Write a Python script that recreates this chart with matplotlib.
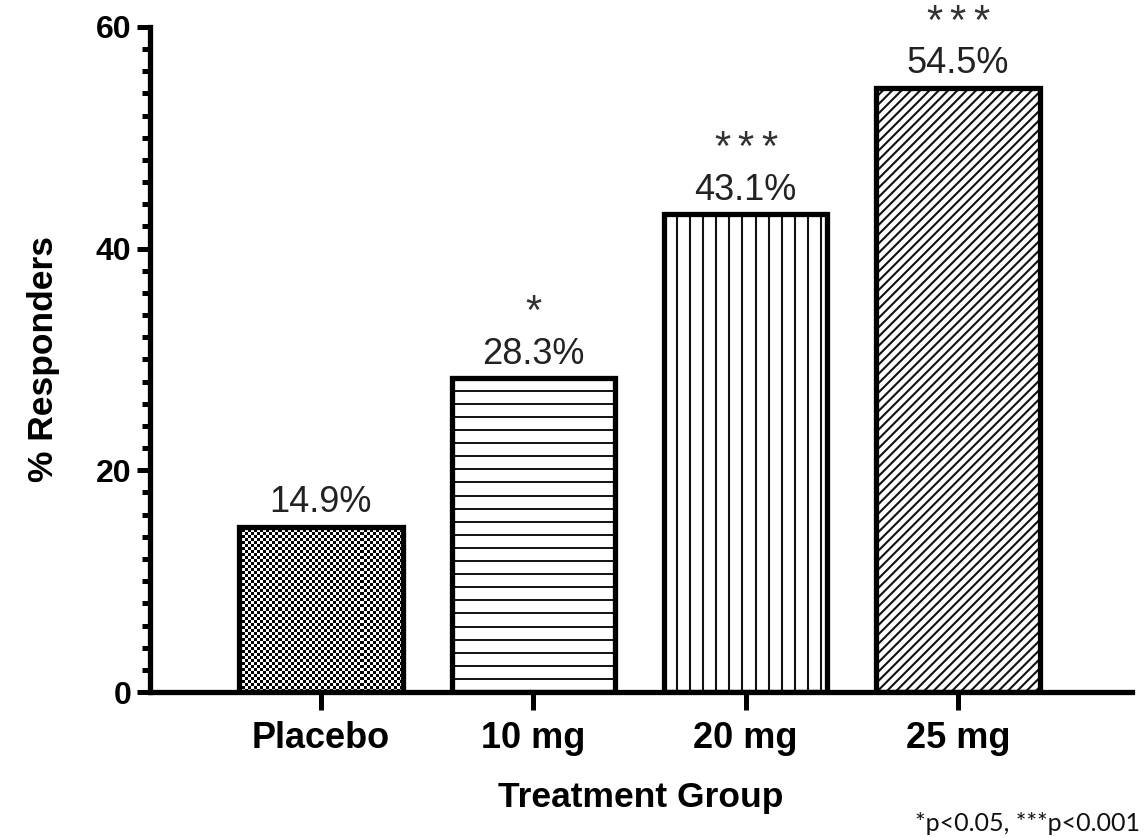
import numpy as np
import matplotlib
matplotlib.use('Agg')
import matplotlib.pyplot as plt

# Data
groups = ['Placebo', '10 mg', '20 mg', '25 mg']
responders = [14.9, 28.3, 43.1, 54.5]
n_stars = [0, 1, 3, 3]
patterns = ['checker', 'horizontal', 'vertical', 'diagonal']
footnote = '*p<0.05, ***p<0.001'

plt.rcParams['font.family'] = ['Liberation Sans', 'DejaVu Sans']

W, H, DPI = 1147, 838, 100
fig = plt.figure(figsize=(W / DPI, H / DPI), dpi=DPI)
ax_box = [150 / W, 146 / H, 982 / W, 665 / H]
ax = fig.add_axes(ax_box)
xlim = (-0.805, 3.82)
ylim = (0, 60)

x = np.arange(len(groups))
bar_w = 0.77
bars = ax.bar(x, responders, width=bar_w, facecolor='white', edgecolor='none', zorder=2)

# pixels per data unit (used to space the fill lines like the original)
px_x = ax_box[2] * W / (xlim[1] - xlim[0])
px_y = ax_box[3] * H / (ylim[1] - ylim[0])
gap = 13.1  # px between fill lines

for b, pat in zip(bars, patterns):
    x0, x1 = b.get_x(), b.get_x() + b.get_width()
    h = b.get_height()
    if pat == 'checker':
        nx = int(round((x1 - x0) * px_x / 3.0))
        ny = int(round(h * px_y / 3.0))
        board = (np.indices((ny, nx)).sum(axis=0) % 2).astype(float)
        im = ax.imshow(board, extent=(x0, x1, 0, h), cmap='gray', vmin=0, vmax=1,
                       interpolation='nearest', aspect='auto', zorder=2.5)
        im.set_clip_path(b)
    elif pat == 'horizontal':
        ys = np.arange(gap / px_y, h, gap / px_y)
        lc = ax.hlines(ys, x0, x1, color='#111111', lw=1.4, zorder=2.5)
        lc.set_clip_path(b)
    elif pat == 'vertical':
        xs = np.arange(x0 + gap / px_x, x1, gap / px_x)
        lc = ax.vlines(xs, 0, h, color='#111111', lw=1.5, zorder=2.5)
        lc.set_clip_path(b)
    else:
        step = 9.3  # horizontal px between diagonal lines
        w_px, h_px = (x1 - x0) * px_x, h * px_y
        for c in np.arange(-h_px, w_px + step, step):
            xs_px = np.array([c, c + h_px])
            ln, = ax.plot(x0 + xs_px / px_x, [0, h], color='#111111', lw=1.5, zorder=2.5)
            ln.set_clip_path(b)

# bar outlines on top
ax.bar(x, responders, width=bar_w, facecolor='none', edgecolor='black', lw=3.8, zorder=4)

star_dx = 17  # points between stars
for xi, v, n in zip(x, responders, n_stars):
    ax.annotate(f'{v}%', (xi, v), xytext=(0, 10.5), textcoords='offset points',
                ha='center', va='baseline', fontsize=26, color='#222222')
    for k in range(n):
        off = (k - (n - 1) / 2) * star_dx
        ax.annotate('*', (xi, v), xytext=(off, 39), textcoords='offset points',
                    ha='center', va='baseline', fontsize=30, color='#333333')

ax.set_xlim(*xlim)
ax.set_ylim(*ylim)

for side in ['top', 'right']:
    ax.spines[side].set_visible(False)
for side in ['left', 'bottom']:
    ax.spines[side].set_linewidth(3.8)

ax.set_yticks([0, 20, 40, 60])
ax.set_yticks(np.arange(0, 61, 2), minor=True)
ax.tick_params(axis='y', which='major', length=9.4, width=3.6, pad=4, labelsize=23)
ax.tick_params(axis='y', which='minor', length=6, width=3.6)
ax.set_xticks(x)
ax.set_xticklabels(groups)
ax.tick_params(axis='x', which='major', length=13, width=3.6, pad=8, labelsize=26)
for lab in ax.get_xticklabels() + ax.get_yticklabels():
    lab.set_fontweight('bold')

ax.set_xlabel('Treatment Group', fontsize=25.5, fontweight='bold', labelpad=18)
ax.set_ylabel('% Responders', fontsize=25.5, fontweight='bold', labelpad=26)

fig.text(1140 / W, 7 / H, footnote, ha='right', va='baseline', fontsize=18,
         family=['Lato', 'DejaVu Sans'], color='#111111')

fig.savefig('out.png', dpi=DPI)
